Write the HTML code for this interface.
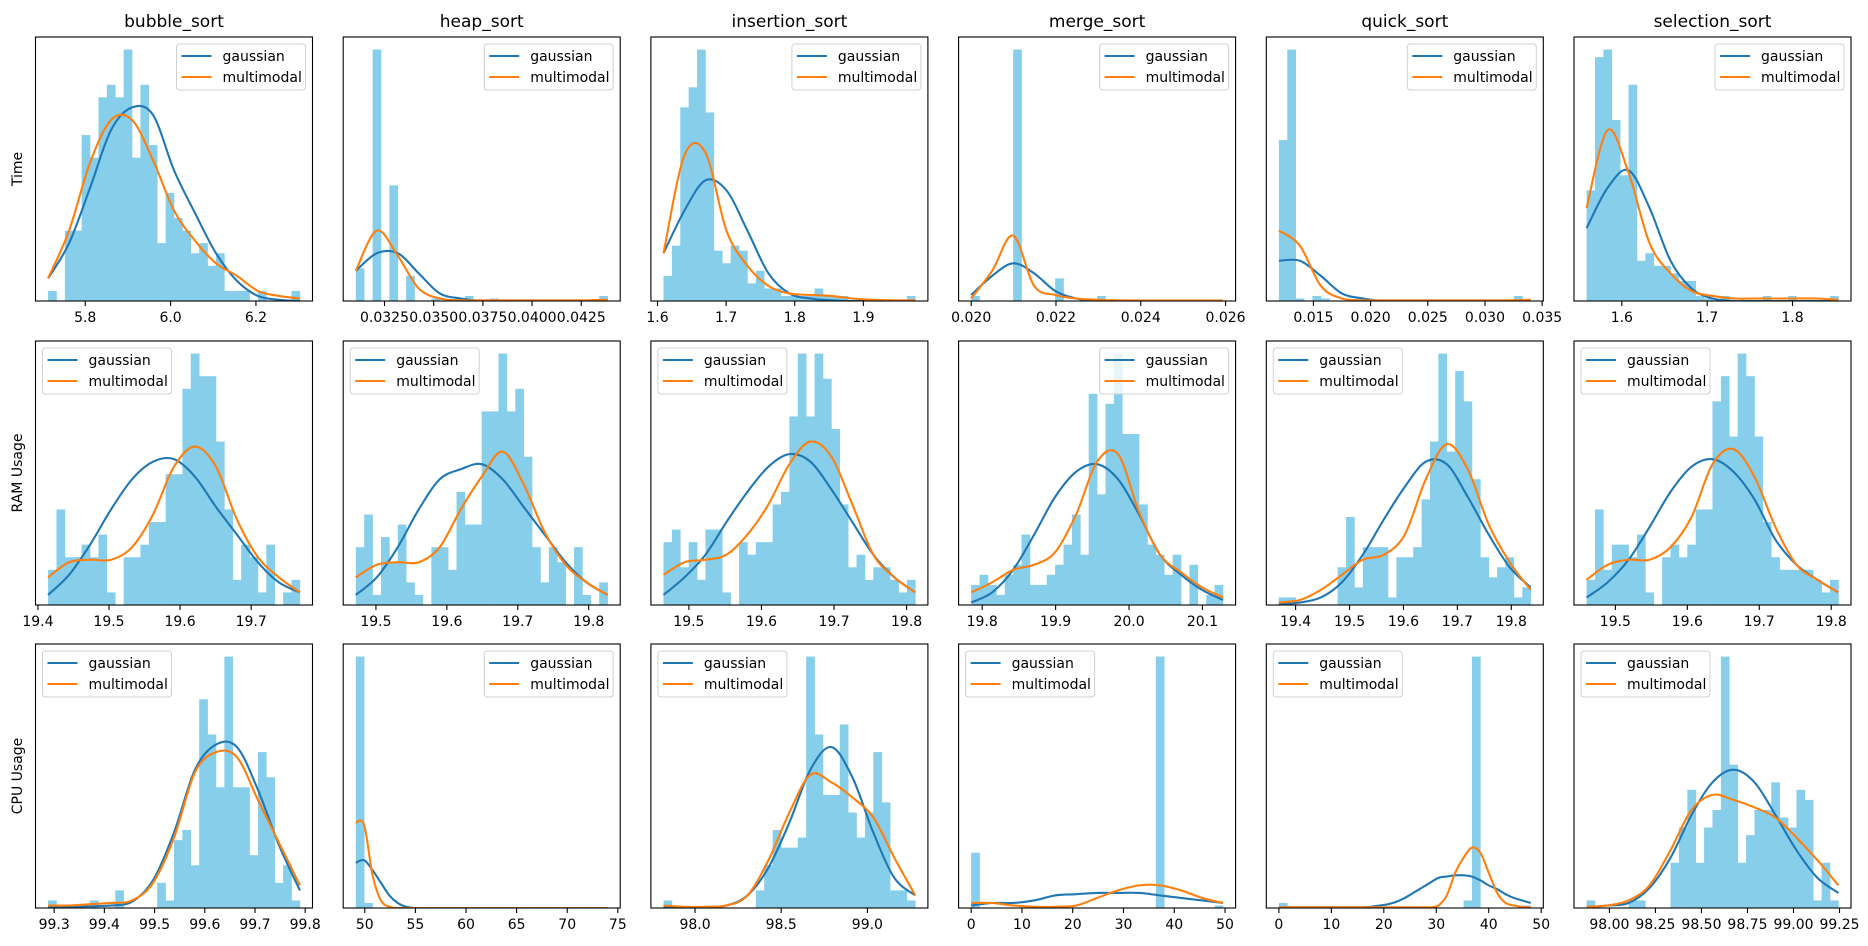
<!DOCTYPE html>
<html><head><meta charset="utf-8"><style>
html,body{margin:0;padding:0;background:#fff;}
svg{display:block;font-family:"DejaVu Sans","Liberation Sans",sans-serif;}
</style></head><body>
<svg id="fig" width="1868" height="946" viewBox="0 0 1868 946" xmlns="http://www.w3.org/2000/svg"></svg>
<script>
// ---------- data (bar heights relative to tallest bar = 100; curves in same units) ----------
const range_r0c0=[5.713,6.303];
const bars_r0c0=[4,0,28,28,66,57,81,86,81,100,57,86,62,23,43,33,28,19,23,14,19,4,4,4,0,4,0,0,0,4];
const gauss_r0c0=[9,23,45,68,77,74,52,35,19,8,2,0.5,0];
const multi_r0c0=[9,28,55,72,72,56,36,24,15,10,4,2,1];
const ticks_r0c0=[5.8,6.0,6.2];
const labels_r0c0=["5.8","6.0","6.2"];

const range_r0c1=[0.03104,0.04384];
const bars_r0c1=[13,0,100,0,46,0,10,0,0,1,0,0,0,2,0,0,1,0,0,0,0,0,0,0,0,0,0,0,0,2];
const gauss_r0c1=[12,19,19,11,3,1,0,0,0,0,0,0,0];
const multi_r0c1=[12,28,18,5,1,0.3,0.3,0.3,0.3,0.3,0.3,0.3,0.5];
const ticks_r0c1=[0.0325,0.035,0.0375,0.04,0.0425];
const labels_r0c1=["0.0325","0.0350","0.0375","0.0400","0.0425"];

const range_r0c2=[1.6087,1.9757];
const bars_r0c2=[10,22,77,85,100,75,20,15,22,20,7,12,5,5,2,2,2,2,5,2,2,2,0,0,0,0,0,0,0,2];
const gauss_r0c2=[19,36,48,44,28,11,3,1,0.3,0,0,0,0];
const multi_r0c2=[19,58,59,28,14,6,3,2.4,2,1,0.5,0.3,0.3];
const ticks_r0c2=[1.6,1.7,1.8,1.9];
const labels_r0c2=["1.6","1.7","1.8","1.9"];

const range_r0c3=[0.020,0.02594];
const bars_r0c3=[2,0,0,0,0,100,0,0,0,0,9,0,0,0,0,2,0,0,0,0,0,0,0,0,0,0,0,0,0,0];
const gauss_r0c3=[2.4,10,15,11,4,1,0,0,0,0,0,0,0];
const multi_r0c3=[1,12,26,6,2.4,1,0.5,0.3,0.2,0.2,0.2,0.2,0.2];
const ticks_r0c3=[0.020,0.022,0.024,0.026];
const labels_r0c3=["0.020","0.022","0.024","0.026"];

const range_r0c4=[0.01198,0.0340];
const bars_r0c4=[64,100,1,0,2,1,0,0,0,0,0,0,0,0,0,0,0,0,0,0,0,0,0,0,0,0,0,0,2,0];
const gauss_r0c4=[16,16,10,3,1,0,0,0,0,0,0,0,0];
const multi_r0c4=[28,22,6,1,0.3,0.3,0.3,0.3,0.3,0.3,0.3,0.3,0.5];
const ticks_r0c4=[0.015,0.020,0.025,0.030,0.035];
const labels_r0c4=["0.015","0.020","0.025","0.030","0.035"];

const range_r0c5=[1.5587,1.8538];
const bars_r0c5=[44,97,100,72,50,86,16,19,14,14,11,8,8,2,1,0,2,0,0,0,0,2,0,0,2,0,0,0,0,2];
const gauss_r0c5=[29,45,52,37,16,5,1,0,0,0,0,0,0];
const multi_r0c5=[37,68,51,23,11,4,2,1,1,1,1,1,0.5];
const ticks_r0c5=[1.6,1.7,1.8];
const labels_r0c5=["1.6","1.7","1.8"];

const range_r1c0=[19.4143,19.7686];
const bars_r1c0=[14,38,19,19,24,19,28,5,0,19,19,24,33,33,52,52,86,100,91,91,65,38,10,24,19,5,24,0,5,10];
const gauss_r1c0=[4,12,24,38,50,57,58,51,39,28,17,9,5];
const multi_r1c0=[11,17,18,18,23,36,55,63,55,34,19,11,5];
const ticks_r1c0=[19.4,19.5,19.6,19.7];
const labels_r1c0=["19.4","19.5","19.6","19.7"];

const range_r1c1=[19.4716,19.8267];
const bars_r1c1=[23,36,4,27,17,32,9,4,0,23,23,14,45,32,32,77,77,100,77,86,59,23,9,23,17,0,23,4,0,9];
const gauss_r1c1=[4,11,23,38,50,54,56,50,39,28,17,9,4];
const multi_r1c1=[11,16,17,17,23,38,51,61,48,29,16,9,4];
const ticks_r1c1=[19.5,19.6,19.7,19.8];
const labels_r1c1=["19.5","19.6","19.7","19.8"];

const range_r1c2=[19.465,19.812];
const bars_r1c2=[25,30,15,25,10,30,30,5,0,25,20,25,25,40,45,75,100,75,100,90,70,40,15,20,10,15,15,10,5,10];
const gauss_r1c2=[4,11,20,33,45,55,60,57,46,33,20,11,5];
const multi_r1c2=[12,17,18,20,28,40,56,65,59,40,20,11,5];
const ticks_r1c2=[19.5,19.6,19.7,19.8];
const labels_r1c2=["19.5","19.6","19.7","19.8"];

const range_r1c3=[19.785,20.128];
const bars_r1c3=[8,12,8,4,12,16,28,8,8,12,16,24,36,20,84,44,80,100,68,68,40,24,20,12,20,0,16,0,4,8];
const gauss_r1c3=[1,5,14,28,43,53,56,50,36,20,12,6,2];
const multi_r1c3=[5,9,14,16,21,36,57,60,37,20,13,7,3];
const ticks_r1c3=[19.8,19.9,20.0,20.1];
const labels_r1c3=["19.8","19.9","20.0","20.1"];

const range_r1c4=[19.369,19.836];
const bars_r1c4=[3,3,0,0,0,0,0,15,35,7,23,23,23,3,19,19,23,42,65,100,61,93,81,50,19,11,15,19,3,7];
const gauss_r1c4=[0.3,1,3,9,20,34,47,57,56,43,28,15,7];
const multi_r1c4=[1,2,6,12,18,20,28,50,64,54,32,17,6];
const ticks_r1c4=[19.4,19.5,19.6,19.7,19.8];
const labels_r1c4=["19.4","19.5","19.6","19.7","19.8"];

const range_r1c5=[19.460,19.810];
const bars_r1c5=[10,38,14,24,24,19,28,5,0,19,24,19,24,38,38,81,91,67,100,91,67,33,19,14,14,14,14,10,5,10];
const gauss_r1c5=[3,9,18,31,45,55,58,53,42,26,16,10,5];
const multi_r1c5=[10,16,18,18,23,35,56,62,51,31,16,10,5];
const ticks_r1c5=[19.5,19.6,19.7,19.8];
const labels_r1c5=["19.5","19.6","19.7","19.8"];

const range_r2c0=[99.2879,99.7895];
const bars_r2c0=[3,0,0,0,0,3,0,0,7,0,0,0,0,10,3,27,31,17,83,69,48,100,48,48,21,62,52,10,17,3];
const gauss_r2c0=[0.5,0.5,0.7,1,2.5,11,30,55,65,64,47,25,7];
const multi_r2c0=[1,1,1.5,2,3,10,28,54,62,60,43,26,9];
const ticks_r2c0=[99.3,99.4,99.5,99.6,99.7,99.8];
const labels_r2c0=["99.3","99.4","99.5","99.6","99.7","99.8"];

const range_r2c1=[49.113,73.99];
const bars_r2c1=[100,2,0,0,0,0,0,0,0,0,0,0,0,0,0,0,0,0,0,0,0,0,0,0,0,0,0,0,0,0];
const gauss_r2c1=[18,19,15,10,5,2,0.5,0,0,0,0,0,0,0,0,0,0,0,0,0,0,0,0,0,0,0,0,0,0,0,0];
const multi_r2c1=[34,33,13,3,0.5,0,0,0,0,0,0,0,0,0,0,0,0,0,0,0,0,0,0,0,0,0,0,0,0,0,0];
const ticks_r2c1=[50,55,60,65,70,75];
const labels_r2c1=["50","55","60","65","70","75"];

const range_r2c2=[97.817,99.278];
const bars_r2c2=[3,0,0,0,0,0,0,0,0,0,0,7,17,31,24,24,28,100,69,45,45,73,38,28,38,62,42,7,7,3];
const gauss_r2c2=[0.3,0.3,0.3,1,5,16,34,55,64,52,30,12,5];
const multi_r2c2=[1,0.5,0.5,1,5,19,38,53,50,44,36,20,5];
const ticks_r2c2=[98.0,98.5,99.0];
const labels_r2c2=["98.0","98.5","99.0"];

const range_r2c3=[0,49.6];
const bars_r2c3=[22,0,0,0,0,0,0,0,0,0,0,0,0,0,0,0,0,0,0,0,0,0,100,0,0,0,0,0,0,1];
const gauss_r2c3=[1,2,2,3,5,5.5,6,6,6,5,4,3,2];
const multi_r2c3=[2,2,1,0.5,0.5,1,4,7,9,9,7,4,2];
const ticks_r2c3=[0,10,20,30,40,50];
const labels_r2c3=["0","10","20","30","40","50"];

const range_r2c4=[0,48.0];
const bars_r2c4=[2,0,0,0,0,0,0,0,0,0,0,0,0,0,0,0,0,0,0,0,0,0,3,100,0,0,0,0,0,1];
const gauss_r2c4=[0.3,0.3,0.3,0.3,0.3,0.3,0.3,0.3,0.3,0.3,0.3,0.5,1,1.5,2.5,4,6,8,10,12,12.5,13,13,12.5,11,9,7.5,5.5,4,3,2];
const multi_r2c4=[0.3,0.3,0.3,0.3,0.3,0.3,0.3,0.3,0.3,0.3,0.3,0.3,0.3,0.3,0.3,0.3,0.3,0.3,0.3,1,5,14,20,24,22,14,6,2,1,0.5,0.3];
const ticks_r2c4=[0,10,20,30,40,50];
const labels_r2c4=["0","10","20","30","40","50"];

const range_r2c5=[97.876,99.244];
const bars_r2c5=[3,0,0,0,0,3,3,0,0,0,18,32,47,18,32,39,100,57,18,29,39,39,50,36,32,47,43,3,18,3];
const gauss_r2c5=[0.3,1,2,8,20,37,50,55,50,37,23,12,6];
const multi_r2c5=[0.5,1,3,9,23,39,45,43,40,36,28,19,9];
const ticks_r2c5=[98.0,98.25,98.5,98.75,99.0,99.25];
const labels_r2c5=["98.00","98.25","98.50","98.75","99.00","99.25"];

const colTitles=["bubble_sort","heap_sort","insertion_sort","merge_sort","quick_sort","selection_sort"];
const rowTitles=["Time","RAM Usage","CPU Usage"];

// ---------- layout (non-data) ----------
const AX_LEFT0=35.5, AX_STEP=307.7, AX_W=277;
const ROW_TOP=[37,341,644], AX_H=264;
const legendRight=[[1,1,1,1,1,1],[0,0,0,1,0,0],[0,1,0,0,0,0]];
const SVGNS="http://www.w3.org/2000/svg";
const fig=document.getElementById('fig');
function mk(tag,attrs,parent){const e=document.createElementNS(SVGNS,tag);for(const k in attrs)e.setAttribute(k,attrs[k]);(parent||fig).appendChild(e);return e;}
function smoothPath(p){
  let d='M'+p[0][0].toFixed(2)+','+p[0][1].toFixed(2);
  for(let i=0;i<p.length-1;i++){
    const p0=p[i-1]||p[i],p1=p[i],p2=p[i+1],p3=p[i+2]||p[i+1];
    const c1x=p1[0]+(p2[0]-p0[0])/6,c1y=p1[1]+(p2[1]-p0[1])/6;
    const c2x=p2[0]-(p3[0]-p1[0])/6,c2y=p2[1]-(p3[1]-p1[1])/6;
    d+=' C'+c1x.toFixed(2)+','+c1y.toFixed(2)+' '+c2x.toFixed(2)+','+c2y.toFixed(2)+' '+p2[0].toFixed(2)+','+p2[1].toFixed(2);
  }
  return d;
}

const dataSets={
 r0c0:[range_r0c0,bars_r0c0,gauss_r0c0,multi_r0c0,ticks_r0c0,labels_r0c0],
 r0c1:[range_r0c1,bars_r0c1,gauss_r0c1,multi_r0c1,ticks_r0c1,labels_r0c1],
 r0c2:[range_r0c2,bars_r0c2,gauss_r0c2,multi_r0c2,ticks_r0c2,labels_r0c2],
 r0c3:[range_r0c3,bars_r0c3,gauss_r0c3,multi_r0c3,ticks_r0c3,labels_r0c3],
 r0c4:[range_r0c4,bars_r0c4,gauss_r0c4,multi_r0c4,ticks_r0c4,labels_r0c4],
 r0c5:[range_r0c5,bars_r0c5,gauss_r0c5,multi_r0c5,ticks_r0c5,labels_r0c5],
 r1c0:[range_r1c0,bars_r1c0,gauss_r1c0,multi_r1c0,ticks_r1c0,labels_r1c0],
 r1c1:[range_r1c1,bars_r1c1,gauss_r1c1,multi_r1c1,ticks_r1c1,labels_r1c1],
 r1c2:[range_r1c2,bars_r1c2,gauss_r1c2,multi_r1c2,ticks_r1c2,labels_r1c2],
 r1c3:[range_r1c3,bars_r1c3,gauss_r1c3,multi_r1c3,ticks_r1c3,labels_r1c3],
 r1c4:[range_r1c4,bars_r1c4,gauss_r1c4,multi_r1c4,ticks_r1c4,labels_r1c4],
 r1c5:[range_r1c5,bars_r1c5,gauss_r1c5,multi_r1c5,ticks_r1c5,labels_r1c5],
 r2c0:[range_r2c0,bars_r2c0,gauss_r2c0,multi_r2c0,ticks_r2c0,labels_r2c0],
 r2c1:[range_r2c1,bars_r2c1,gauss_r2c1,multi_r2c1,ticks_r2c1,labels_r2c1],
 r2c2:[range_r2c2,bars_r2c2,gauss_r2c2,multi_r2c2,ticks_r2c2,labels_r2c2],
 r2c3:[range_r2c3,bars_r2c3,gauss_r2c3,multi_r2c3,ticks_r2c3,labels_r2c3],
 r2c4:[range_r2c4,bars_r2c4,gauss_r2c4,multi_r2c4,ticks_r2c4,labels_r2c4],
 r2c5:[range_r2c5,bars_r2c5,gauss_r2c5,multi_r2c5,ticks_r2c5,labels_r2c5]
};

function drawPanel(r,c){
  const [rng,bars,gauss,multi,ticks,labels]=dataSets['r'+r+'c'+c];
  const L=AX_LEFT0+AX_STEP*c, T=ROW_TOP[r], W=AX_W, H=AX_H;
  const span=rng[1]-rng[0], x0=rng[0]-0.05*span, x1=rng[1]+0.05*span;
  const ymax=Math.max(...bars)*1.05;
  const xs=v=>L+(v-x0)/(x1-x0)*W;
  const ys=v=>T+H-v/ymax*H;
  const g=mk('g',{});
  
  
  const clipId='clip'+r+c;
  const cp=mk('clipPath',{id:clipId},g);mk('rect',{x:L,y:T,width:W,height:H},cp);
  const bw=span/bars.length;
  const bg=mk('g',{'clip-path':'url(#'+clipId+')'},g);
  bars.forEach((b,i)=>{
    if(b<=0)return;
    const xa=xs(rng[0]+i*bw), xb=xs(rng[0]+(i+1)*bw);
    const rect=mk('rect',{x:xa,y:ys(b),width:xb-xa+0.3,height:ys(0)-ys(b),fill:'#87ceeb'},bg);
    
    
  });
  [[gauss,'#1f77b4','gaussian-curve'],[multi,'#ff7f0e','multimodal-curve']].forEach(([arr,col,nm])=>{
    const n=arr.length;
    const pts=arr.map((v,i)=>[xs(rng[0]+span*i/(n-1)),ys(v)]);
    const pl=mk('path',{d:smoothPath(pts),fill:'none',stroke:col,'stroke-width':2.1,'stroke-linejoin':'round'},bg);
    
    
  });
  const frame=mk('rect',{x:L,y:T,width:W,height:H,fill:'none',stroke:'#000','stroke-width':1.1},g);
  
  
  ticks.forEach((t,i)=>{
    const x=xs(t);
    mk('line',{x1:x,x2:x,y1:T+H,y2:T+H+5,stroke:'#000','stroke-width':1.1},g);
    const tx=mk('text',{x:x,y:T+H+21,'font-size':14,'text-anchor':'middle',fill:'#000'},g);
    tx.textContent=labels[i];
    
    
  });
  const lw=129, lh=46;
  const lx=legendRight[r][c]?L+W-7-lw:L+7, ly=T+7;
  const lg=mk('g',{},g);
  
  
  mk('rect',{x:lx,y:ly,width:lw,height:lh,rx:3,fill:'#fff','fill-opacity':0.8,stroke:'#d0d0d0','stroke-width':1},lg);
  [['gaussian','#1f77b4'],['multimodal','#ff7f0e']].forEach(([lab,col],k)=>{
    const yy=ly+12+k*21;
    mk('line',{x1:lx+5,x2:lx+35,y1:yy,y2:yy,stroke:col,'stroke-width':2.1},lg);
    const t=mk('text',{x:lx+46,y:yy+5,'font-size':14,fill:'#000'},lg);
    t.textContent=lab;
    
    
  });
  if(r===0){
    const tt=mk('text',{x:L+W/2,y:T-10,'font-size':17,'text-anchor':'middle',fill:'#000'});
    tt.textContent=colTitles[c];
    
    
  }
  if(c===0){
    const cy=T+H/2;
    const yl=mk('text',{x:22,y:cy,'font-size':14,'text-anchor':'middle',fill:'#000',transform:'rotate(-90 22 '+cy+')'});
    yl.textContent=rowTitles[r];
    
    
  }
}
for(let r=0;r<3;r++)for(let c=0;c<6;c++)drawPanel(r,c);
</script>
</body></html>
